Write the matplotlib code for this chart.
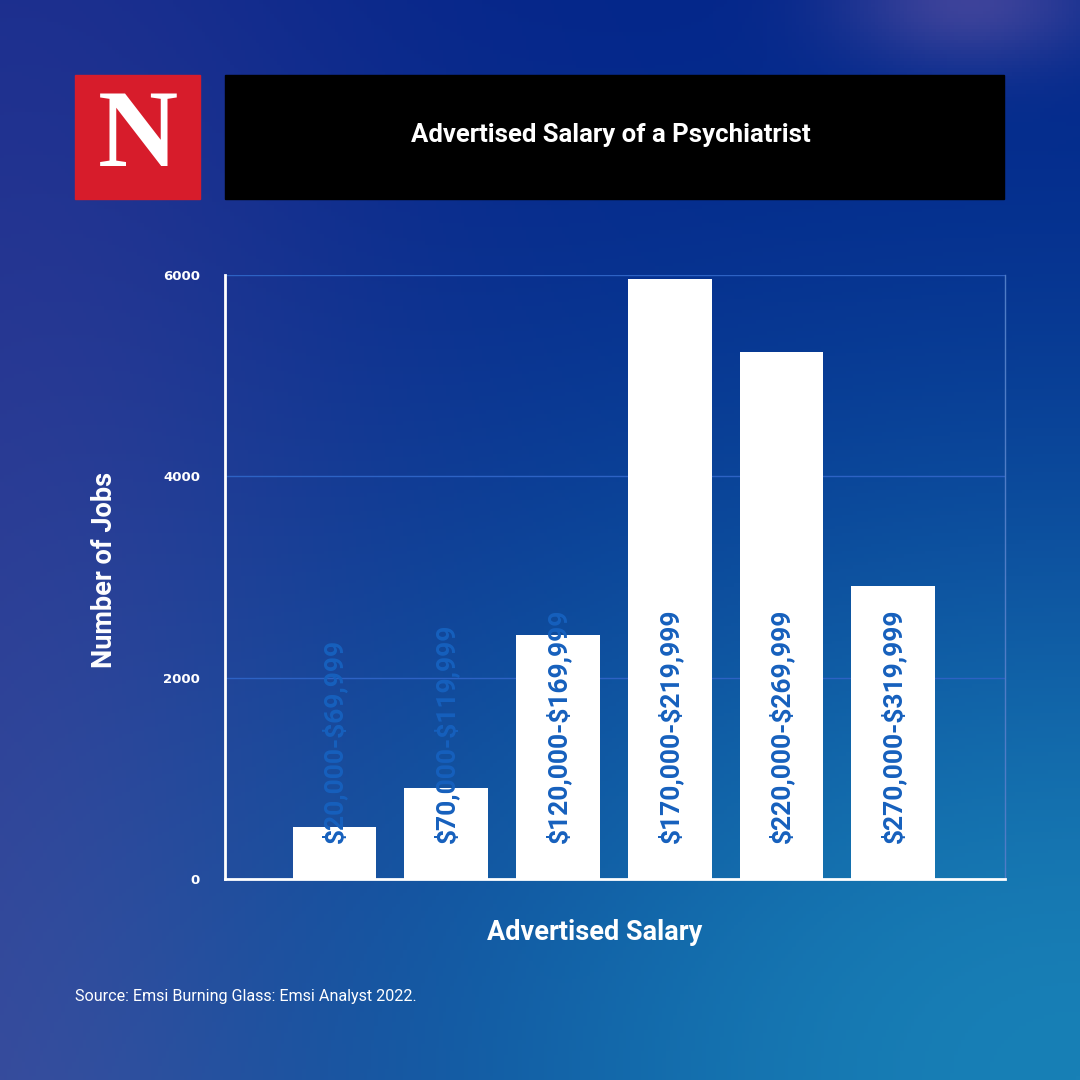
import numpy as np
import matplotlib
matplotlib.use("Agg")
import matplotlib.pyplot as plt
from matplotlib.patches import Rectangle

plt.rcParams["text.parse_math"] = False

# data
salary_ranges = ["$20,000-$69,999", "$70,000-$119,999", "$120,000-$169,999",
                 "$170,000-$219,999", "$220,000-$269,999", "$270,000-$319,999"]
job_counts = [515, 905, 2420, 5960, 5235, 2915]
y_ticks = [0, 2000, 4000, 6000]

title = "Advertised Salary of a Psychiatrist"
x_label = "Advertised Salary"
y_label = "Number of Jobs"
source = "Source: Emsi Burning Glass: Emsi Analyst 2022."

label_blue = "#1660bd"
grid_blue = "#2d62c4"

fig = plt.figure(figsize=(10.8, 10.8), dpi=100)

# background gradient
h, w = 300, 300
yy, xx = np.mgrid[0:1:h * 1j, 0:1:w * 1j]
navy = np.array([2, 34, 136]) / 255
purple = np.array([62, 62, 150]) / 255
teal = np.array([24, 128, 182]) / 255
lilac = np.array([100, 85, 165]) / 255
img = np.ones((h, w, 3)) * navy
wp = np.clip(np.exp(-((xx - 0.0) / 0.35) ** 2) * (0.45 + 0.55 * yy), 0, 1)
wt = np.clip(np.exp(-(((xx - 1.0) / 0.8) ** 2 + ((yy - 1.0) / 0.6) ** 2)), 0, 1)
wl = 0.6 * np.clip(np.exp(-(((xx - 0.9) / 0.12) ** 2 + ((yy - 0.0) / 0.06) ** 2)), 0, 1)
img = img * (1 - wp)[..., None] + purple * wp[..., None]
img = img * (1 - wt)[..., None] + teal * wt[..., None]
img = img * (1 - wl)[..., None] + lilac * wl[..., None]
bg = fig.add_axes([0, 0, 1, 1], zorder=-10)
bg.imshow(img, extent=[0, 1, 0, 1], aspect="auto", origin="upper")
bg.set_xlim(0, 1)
bg.set_ylim(0, 1)
bg.axis("off")

# logo and title box
bg.add_patch(Rectangle((75 / 1080, 1 - 199 / 1080), 125 / 1080, 124 / 1080,
                       color="#d71c2b"))
bg.text(137.5 / 1080, 1 - 139 / 1080, "N", color="white", fontsize=80,
        family="Liberation Serif", weight="bold", ha="center", va="center")
bg.add_patch(Rectangle((225 / 1080, 1 - 199 / 1080), 779 / 1080, 124 / 1080,
                       color="black"))
bg.text(611 / 1080, 1 - 135 / 1080, title, color="white", fontsize=18.5,
        family="Roboto", weight="bold", ha="center", va="center")

# chart
ax = fig.add_axes([225 / 1080, 201 / 1080, 780 / 1080, 604 / 1080])
ax.patch.set_alpha(0)
x = np.arange(len(salary_ranges))
ax.bar(x, job_counts, width=0.75, color="white", zorder=3)
for xi, lab in zip(x, salary_ranges):
    ax.annotate(lab, (xi, 0), xytext=(0, 26), textcoords="offset points",
                rotation=90, ha="center", va="bottom", color=label_blue,
                fontsize=19, family="Roboto", weight="bold", zorder=4)

ax.set_xlim(-0.98, 6.0)
ax.set_ylim(0, 6000)
ax.set_yticks(y_ticks)
ax.set_yticklabels([str(t) for t in y_ticks], color="white", fontsize=9.5,
                   family="DejaVu Sans", weight="bold")
ax.tick_params(axis="y", length=0, pad=18)
ax.set_xticks([])
ax.grid(axis="y", color=grid_blue, linewidth=1, zorder=1)
ax.spines["left"].set_color("white")
ax.spines["left"].set_linewidth(2)
ax.spines["bottom"].set_color("white")
ax.spines["bottom"].set_linewidth(2)
ax.spines["top"].set_visible(False)
ax.spines["right"].set_color("#4f7cc6")
ax.spines["right"].set_linewidth(1)

fig.text(595 / 1080, 1 - 932 / 1080, x_label, color="white", fontsize=19.5,
         family="Roboto", weight="bold", ha="center", va="center")
fig.text(105 / 1080, 1 - 570 / 1080, y_label, color="white", fontsize=19.5,
         family="Roboto", weight="bold", ha="center", va="center", rotation=90)
fig.text(75 / 1080, 1 - 997 / 1080, source, color="white", fontsize=11.6,
         family="Roboto", ha="left", va="center")

fig.savefig("out.png", dpi=100)
